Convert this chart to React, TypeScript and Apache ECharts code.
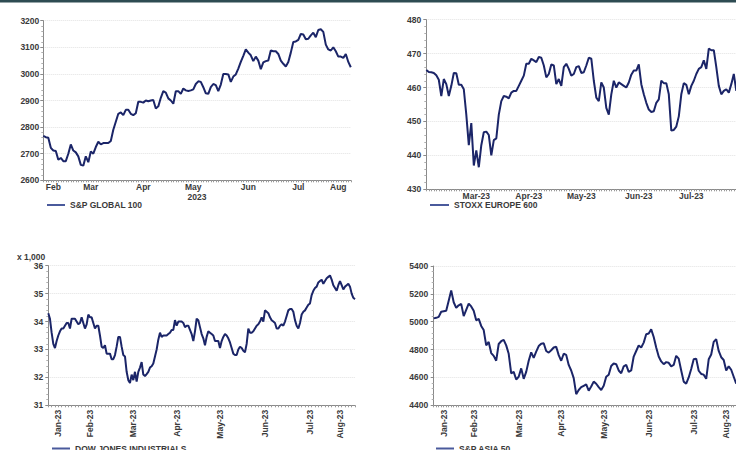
import { useEffect, useRef } from 'react';
import * as echarts from 'echarts';

// ---------- S&P GLOBAL 100 (daily-ish samples) ----------
const sp100Values = [
  2767, 2762, 2760, 2722, 2712, 2710, 2677, 2684, 2672, 2672, 2700, 2735, 2712, 2705, 2690, 2658,
  2655, 2690, 2668, 2708, 2700, 2725, 2745, 2735, 2740, 2740, 2740, 2748, 2790, 2820, 2850, 2855,
  2845, 2865, 2865, 2850, 2845, 2852, 2895, 2895, 2892, 2900, 2897, 2900, 2902, 2870, 2878, 2910,
  2935, 2930, 2908, 2900, 2888, 2935, 2935, 2925, 2945, 2938, 2936, 2938, 2942, 2962, 2972, 2970,
  2950, 2927, 2925, 2950, 2962, 2958, 2935, 2960, 3000, 3000, 2998, 2970, 2990, 2998, 3020, 3045,
  3068, 3092, 3080, 3070, 3048, 3065, 3050, 3018, 3043, 3048, 3050, 3088, 3085, 3085, 3075, 3050,
  3038, 3028, 3045, 3080, 3120, 3122, 3128, 3150, 3148, 3130, 3132, 3145, 3155, 3138, 3165, 3168,
  3158, 3110, 3092, 3088, 3100, 3085, 3065, 3065, 3060, 3075, 3045, 3025,
];
const sp100MonthIdx = [4, 19, 40, 60, 82, 102, 118];
const sp100MonthLabels = ['Feb', 'Mar', 'Apr', 'May', 'Jun', 'Jul', 'Aug'];
const sp100YTicks = { min: 2600, max: 3200, interval: 100 };

// ---------- STOXX EUROPE 600 ----------
const stoxxValues = [
  465.2, 464.6, 464.5, 464.3, 463.6, 462.3, 457.5, 462.5, 461, 457.5, 460.5, 464.3, 464.2, 460.8,
  460.8, 459.5, 452, 443, 449.5, 437, 441.5, 436.5, 443, 446.8, 447, 446, 440, 444.5, 445, 452, 456,
  457.5, 457.3, 456.8, 458.5, 459, 459, 460.5, 462, 463.5, 467, 467, 468.5, 468, 467.5, 469, 468.8,
  466.5, 463, 464, 466.8, 466.5, 461, 462.5, 460.5, 466, 467, 465.5, 463.5, 464, 466, 466.3, 464.3,
  464.5, 466.5, 468.8, 468.5, 462, 457, 456, 461.5, 460, 454, 452, 458, 462, 460, 461.5, 461, 460.5,
  460, 461.5, 463.8, 465, 465, 466.8, 461, 458, 455.5, 453.5, 452.8, 453, 455.5, 456.5, 462, 461.3,
  461.3, 458, 447.3, 447.5, 448.5, 451.5, 458, 461.3, 460.8, 458, 460.5, 462, 464, 465.5, 466, 468,
  465.5, 471.5, 471, 471, 466, 460.5, 458, 459, 459.5, 458.5, 461, 464, 459,
];
const stoxxMonthIdx = [20, 41, 62, 85, 106];
const stoxxMonthLabels = ['Mar-23', 'Apr-23', 'May-23', 'Jun-23', 'Jul-23'];
const stoxxYTicks = { min: 430, max: 480, interval: 10 };

// ---------- DOW JONES INDUSTRIALS (x 1,000) ----------
const dowValues = [
  34.3, 34.1, 33.6, 33.2, 33.05, 33.3, 33.5, 33.65, 33.75, 33.75, 33.85, 33.95, 33.95, 33.75, 34.1,
  34.1, 34.1, 34.0, 33.9, 33.95, 34.15, 33.95, 33.75, 33.9, 34.25, 34.15, 34.15, 33.95, 33.75, 33.85,
  33.85, 33.5, 33.1, 33.05, 33.15, 32.85, 32.85, 32.85, 32.65, 32.65, 32.8, 33.1, 33.45, 33.45, 33.1,
  32.8, 32.75, 32.2, 31.9, 31.8, 32.1, 31.9, 32.2, 31.85, 32.2, 32.35, 32.55, 32.1, 32.05, 32.12,
  32.2, 32.35, 32.4, 32.5, 32.75, 33.0, 33.35, 33.6, 33.45, 33.5, 33.5, 33.5, 33.55, 33.6, 33.7, 33.7,
  34.05, 33.85, 34.0, 34.0, 34.0, 33.95, 33.8, 33.85, 33.85, 33.7, 33.55, 33.3, 33.65, 34.1, 34.05,
  33.8, 33.55, 33.4, 33.15, 33.45, 33.65, 33.6, 33.55, 33.5, 33.3, 33.3, 33.3, 33.05, 33.3, 33.45,
  33.55, 33.5, 33.4, 33.25, 33.05, 32.85, 32.8, 32.8, 33.0, 33.1, 33.05, 32.95, 32.9, 33.2, 33.75,
  33.6, 33.6, 33.65, 33.75, 33.85, 33.9, 34.0, 34.15, 34.0, 34.4, 34.35, 34.3, 34.15, 34.05, 34.0,
  33.95, 33.75, 33.75, 33.85, 33.9, 33.85, 34.0, 34.2, 34.4, 34.45, 34.45, 34.35, 34.05, 33.85, 33.75,
  33.95, 34.25, 34.35, 34.4, 34.5, 34.6, 34.65, 34.95, 35.1, 35.2, 35.25, 35.4, 35.45, 35.5, 35.35,
  35.45, 35.55, 35.6, 35.65, 35.5, 35.3, 35.2, 35.1, 35.3, 35.45, 35.3, 35.15, 35.25, 35.3, 35.35,
  35.25, 35.0, 34.85, 34.8,
];
const dowMonthIdx = [6, 25, 51, 77, 103, 130, 157, 175];
const dowMonthLabels = ['Jan-23', 'Feb-23', 'Mar-23', 'Apr-23', 'May-23', 'Jun-23', 'Jul-23', 'Aug-23'];
const dowYTicks = { min: 31, max: 36, interval: 1 };

// ---------- S&P ASIA 50 ----------
const asiaValues = [
  5024, 5028, 5035, 5072, 5075, 5078, 5150, 5225, 5140, 5100, 5118, 5128, 5040, 5085, 5130, 5110,
  5078, 5010, 5020, 4970, 4940, 4830, 4855, 4775, 4755, 4720, 4840, 4860, 4870, 4830, 4770, 4630,
  4640, 4585, 4605, 4665, 4590, 4640, 4720, 4780, 4740, 4785, 4825, 4842, 4845, 4790, 4778, 4795,
  4815, 4820, 4760, 4720, 4770, 4762, 4690, 4650, 4595, 4480, 4510, 4530, 4540, 4550, 4505, 4535,
  4570, 4555, 4530, 4510, 4540, 4605, 4620, 4682, 4700, 4695, 4650, 4630, 4680, 4690, 4640, 4650,
  4750, 4790, 4830, 4815, 4850, 4910, 4915, 4945, 4890, 4815, 4750, 4715, 4695, 4710, 4705, 4680,
  4690, 4755, 4735, 4650, 4570, 4555, 4600, 4660, 4730, 4735, 4648, 4625, 4620, 4590, 4730, 4765,
  4855, 4875, 4790, 4745, 4725, 4650, 4680, 4655, 4605, 4555,
];
const asiaMonthIdx = [4, 16, 34, 51, 68, 86, 104, 117];
const asiaMonthLabels = ['Jan-23', 'Feb-23', 'Mar-23', 'Apr-23', 'May-23', 'Jun-23', 'Jul-23', 'Aug-23'];
const asiaYTicks = { min: 4400, max: 5400, interval: 200 };

const FONT = 'Liberation Sans, Arial, sans-serif';
const LINE_COLOR = '#1b2568';
const LEGEND_COLOR = '#4a5a9c';
const TEXT_COLOR = '#3a3a3a';

function cats(n: number) {
  return Array.from({ length: n }, (_, i) => String(i));
}

function xAxisFor(
  gridIndex: number,
  n: number,
  idx: number[],
  labels: string[],
  rotate: number,
  margin: number,
  tickInterval: number,
  extra: any = {}
) {
  return {
    type: 'category',
    gridIndex,
    data: cats(n),
    boundaryGap: false,
    axisLine: { show: true, lineStyle: { color: '#8a8a8a', width: 1 } },
    axisTick: { show: true, interval: tickInterval, length: 2, lineStyle: { color: '#9a9a9a' } },
    splitLine: { show: false },
    axisLabel: {
      interval: (i: number) => idx.indexOf(i) >= 0,
      formatter: (_v: string, i: number) => {
        const k = idx.indexOf(i);
        return k >= 0 ? labels[k] : '';
      },
      rotate,
      margin,
      fontSize: 8.5,
      fontWeight: 'bold',
      fontFamily: FONT,
      color: TEXT_COLOR,
    },
    ...extra,
  };
}

function yAxisFor(gridIndex: number, t: { min: number; max: number; interval: number }, margin: number, extra: any = {}) {
  return {
    type: 'value',
    gridIndex,
    min: t.min,
    max: t.max,
    interval: t.interval,
    axisLine: { show: true, lineStyle: { color: '#8a8a8a', width: 1 } },
    axisTick: { show: true, length: 3, lineStyle: { color: '#8a8a8a' } },
    minorTick: { show: true, splitNumber: 5, length: 2, lineStyle: { color: '#b0b0b0' } },
    splitLine: { show: true, lineStyle: { color: '#e2e2e2', type: 'dotted', width: 1 } },
    axisLabel: {
      margin,
      formatter: (v: number) => String(v),
      fontSize: 8.5,
      fontWeight: 'bold',
      fontFamily: FONT,
      color: TEXT_COLOR,
    },
    ...extra,
  };
}

function legendFor(name: string, left: number, top: number, width: number) {
  return {
    left,
    top,
    padding: 0,
    icon: 'rect',
    itemWidth: width,
    itemHeight: 2,
    data: [{ name, itemStyle: { color: LEGEND_COLOR } }],
    textStyle: { fontSize: 8.5, fontWeight: 'bold', fontFamily: FONT, color: TEXT_COLOR },
    selectedMode: false,
  };
}

function lineSeries(name: string, idx: number, data: number[]) {
  return {
    name,
    type: 'line',
    xAxisIndex: idx,
    yAxisIndex: idx,
    data,
    symbol: 'none',
    lineStyle: { color: LINE_COLOR, width: 2 },
    itemStyle: { color: LINE_COLOR },
  };
}

export default function App() {
  const ref = useRef<HTMLDivElement>(null);

  useEffect(() => {
    if (!ref.current) return;
    const chart = echarts.init(ref.current, undefined, { renderer: 'svg' });
    const option: any = {
      animation: false,
      backgroundColor: '#ffffff',
      graphic: [
        { type: 'rect', shape: { x: 0, y: 0, width: 736, height: 2.5 }, style: { fill: '#2e4c52' } },
      ],
      grid: [
        { left: 43.3, top: 20.7, width: 307.5, height: 159.6, outerBoundsMode: 'none' },
        { left: 426.3, top: 19.7, width: 310, height: 169.6, outerBoundsMode: 'none' },
        { left: 48.3, top: 265.7, width: 306.7, height: 139.6, outerBoundsMode: 'none' },
        { left: 433.7, top: 266, width: 302.5, height: 139.3, outerBoundsMode: 'none' },
      ],
      xAxis: [
        xAxisFor(0, sp100Values.length, sp100MonthIdx, sp100MonthLabels, 0, 2, 0, {
          name: '2023',
          nameLocation: 'middle',
          nameGap: 12,
          nameTextStyle: { fontSize: 8.5, fontWeight: 'bold', fontFamily: FONT, color: TEXT_COLOR },
        }),
        xAxisFor(1, stoxxValues.length, stoxxMonthIdx, stoxxMonthLabels, 0, 2.5, 0),
        xAxisFor(2, dowValues.length, dowMonthIdx, dowMonthLabels, 90, 4.5, 1),
        xAxisFor(3, asiaValues.length, asiaMonthIdx, asiaMonthLabels, 90, 4.5, 0),
      ],
      yAxis: [
        yAxisFor(0, sp100YTicks, 4),
        yAxisFor(1, stoxxYTicks, 5),
        yAxisFor(2, dowYTicks, 5, {
          name: 'x 1,000',
          nameLocation: 'end',
          nameGap: 4,
          nameTextStyle: {
            fontSize: 8.5,
            fontWeight: 'bold',
            fontFamily: FONT,
            color: TEXT_COLOR,
            align: 'right',
            padding: [0, 3, 0, 0],
          },
        }),
        yAxisFor(3, asiaYTicks, 5.5),
      ],
      legend: [
        legendFor('S&P GLOBAL 100', 47, 200.5, 18),
        legendFor('STOXX EUROPE 600', 430, 200.5, 19),
        legendFor('DOW JONES INDUSTRIALS', 52, 444, 18),
        legendFor('S&P ASIA 50', 436, 444, 18),
      ],
      series: [
        lineSeries('S&P GLOBAL 100', 0, sp100Values),
        lineSeries('STOXX EUROPE 600', 1, stoxxValues),
        lineSeries('DOW JONES INDUSTRIALS', 2, dowValues),
        lineSeries('S&P ASIA 50', 3, asiaValues),
      ],
    };
    chart.setOption(option);
    return () => chart.dispose();
  }, []);

  return (
    <div
      ref={ref}
      style={{ position: 'fixed', left: 0, top: 0, width: 736, height: 450, background: '#fff' }}
    />
  );
}
